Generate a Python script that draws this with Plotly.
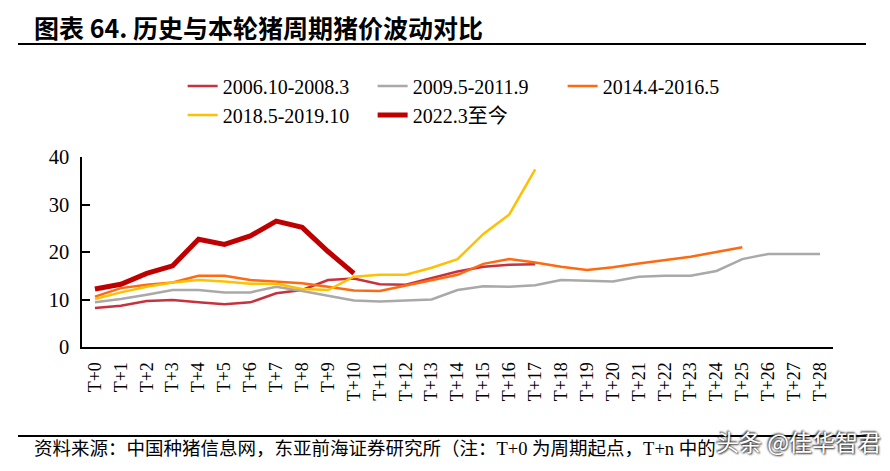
import plotly.graph_objects as go

categories = [f"T+{i}" for i in range(29)]

s2006 = [8.2, 8.7, 9.7, 9.9, 9.4, 9.0, 9.4, 11.3, 12.0, 14.1, 14.4, 13.2, 13.1, 14.5, 15.9, 16.9, 17.3, 17.4]
s2009 = [9.4, 10.1, 11.0, 12.0, 12.0, 11.5, 11.5, 12.7, 11.8, 10.8, 9.8, 9.6, 9.8, 10.0, 12.0, 12.8, 12.7, 13.0,
         14.1, 13.9, 13.8, 14.8, 15.0, 15.0, 16.0, 18.5, 19.6, 19.6, 19.6]
s2014 = [10.6, 12.4, 13.1, 13.6, 15.0, 15.0, 14.1, 13.8, 13.4, 12.7, 11.9, 11.8, 12.9, 14.1, 15.2, 17.5, 18.5, 17.8,
         16.9, 16.2, 16.8, 17.6, 18.3, 19.0, 20.0, 21.0]
s2018 = [10.1, 11.5, 12.7, 13.6, 14.1, 13.8, 13.3, 13.3, 12.2, 12.0, 14.8, 15.2, 15.2, 16.7, 18.5, 23.8, 27.9, 37.4]
s2022 = [12.2, 13.2, 15.5, 17.1, 22.7, 21.6, 23.4, 26.5, 25.2, 20.1, 15.5]

series = [
    ("2006.10-2008.3", s2006, "#C8323F", 2.5),
    ("2009.5-2011.9", s2009, "#A9A9A9", 2.5),
    ("2014.4-2016.5", s2014, "#FF6A10", 2.5),
    ("2018.5-2019.10", s2018, "#FFC000", 2.5),
    ("2022.3至今", s2022, "#C00000", 5),
]

SERIF = "Liberation Serif, Noto Sans CJK SC, serif"

# page body adds an 8px offset; figure is sized/placed to compensate
fig = go.Figure()
for name, vals, color, w in series:
    fig.add_trace(go.Scatter(
        x=categories[:len(vals)], y=vals, name=name, mode="lines",
        line=dict(color=color, width=w),
    ))

fig.update_layout(
    width=882, height=463,
    margin=dict(l=74, r=57, t=149, b=124, autoexpand=False),
    paper_bgcolor="white", plot_bgcolor="white",
    font=dict(family=SERIF, size=16, color="black"),
    showlegend=True,
    legend=dict(
        orientation="h", x=0.134, xanchor="left", y=1.476, yanchor="top",
        entrywidth=145, entrywidthmode="pixels",
        font=dict(family=SERIF, size=20, color="black"),
        bgcolor="rgba(0,0,0,0)", traceorder="normal",
    ),
    xaxis=dict(
        type="category", categoryorder="array", categoryarray=categories,
        range=[-0.5, 28.5], showgrid=False, zeroline=False,
        showline=True, linecolor="black", linewidth=2,
        ticks="", tickangle=-90, tickfont=dict(family=SERIF, size=18),
        ticklabelstandoff=6,
    ),
    yaxis=dict(
        range=[0, 40], tickvals=[0, 10, 20, 30, 40], showgrid=False, zeroline=False,
        showline=True, linecolor="black", linewidth=1.5,
        ticks="inside", ticklen=8, tickwidth=1.5, tickcolor="black",
        tickfont=dict(family=SERIF, size=20.5), ticklabelstandoff=7,
    ),
)


def px_x(sx):
    return (sx - 82) / 751


def px_y(sy):
    return (347 - sy) / 190


# Title
fig.add_annotation(
    xref="paper", yref="paper", x=px_x(32), y=px_y(27),
    xanchor="left", yanchor="middle", showarrow=False,
    text="<b>图表 64. 历史与本轮猪周期猪价波动对比</b>",
    font=dict(family="Noto Sans CJK SC, Liberation Sans, sans-serif", size=25, color="black"),
)
# Title underline
fig.add_shape(type="line", xref="paper", yref="paper",
              x0=px_x(18), x1=px_x(866), y0=px_y(44), y1=px_y(44),
              line=dict(color="black", width=2))
# Bottom line
fig.add_shape(type="line", xref="paper", yref="paper",
              x0=px_x(18), x1=px_x(866), y0=px_y(436), y1=px_y(436),
              line=dict(color="black", width=2))
# Source
fig.add_annotation(
    xref="paper", yref="paper", x=px_x(32), y=px_y(449),
    xanchor="left", yanchor="middle", showarrow=False,
    text="资料来源：中国种猪信息网，东亚前海证券研究所（注：T+0 为周期起点，T+n 中的",
    font=dict(family=SERIF, size=18.5, color="black"),
)
# Watermark
fig.add_annotation(
    xref="paper", yref="paper", x=px_x(714), y=px_y(441),
    xanchor="left", yanchor="middle", showarrow=False,
    text="头条 @佳华智君",
    font=dict(family="Noto Sans CJK SC, sans-serif", size=23, color="white",
              shadow="1px 1px 2px #222, -1px -1px 2px #222"),
)

fig.write_html("out.html")
